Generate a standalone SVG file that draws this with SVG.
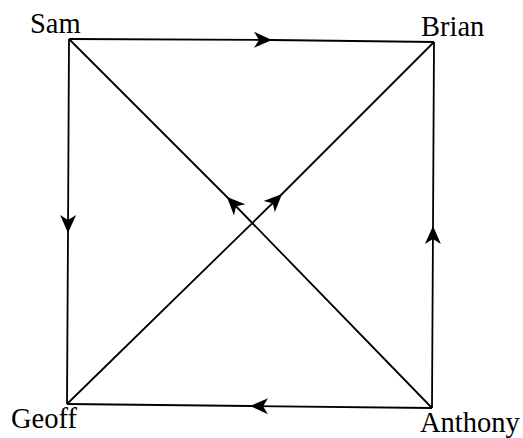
<svg xmlns="http://www.w3.org/2000/svg" width="523" height="438" viewBox="0 0 523 438">
<style>
.edge{fill:none;stroke:#000;stroke-width:1.8;marker-mid:url(#ah)}
.lbl{font-family:"Liberation Serif","Times New Roman",serif;font-size:28.5px;fill:#000}
</style>
<defs>
<marker id="ah" markerUnits="userSpaceOnUse" viewBox="-20 -9 22 18" refX="0" refY="0" markerWidth="22" markerHeight="18" orient="auto">
<path d="M0,0 L-18,-8 L-13,0 L-18,8 Z" fill="#000"/>
</marker>
</defs>
<rect width="523" height="438" fill="#fff"/>
<g id="connectors">
<path class="edge" d="M69,39 L272,40 L434,42"/>
<path class="edge" d="M69,39 L68,233 L67,404"/>
<path class="edge" d="M432,408 L433,226 L434,42"/>
<path class="edge" d="M432,408 L250,406 L67,404"/>
<path class="edge" d="M432,408 L227,197 L69,39"/>
<path class="edge" d="M67,404 L282,194 L434,42"/>
</g>
<g id="Sam"><text class="lbl" x="30" y="33">Sam</text></g>
<g id="Brian"><text class="lbl" x="421" y="36">Brian</text></g>
<g id="Geoff"><text class="lbl" x="11" y="428">Geoff</text></g>
<g id="Anthony"><text class="lbl" x="420" y="432">Anthony</text></g>
</svg>
